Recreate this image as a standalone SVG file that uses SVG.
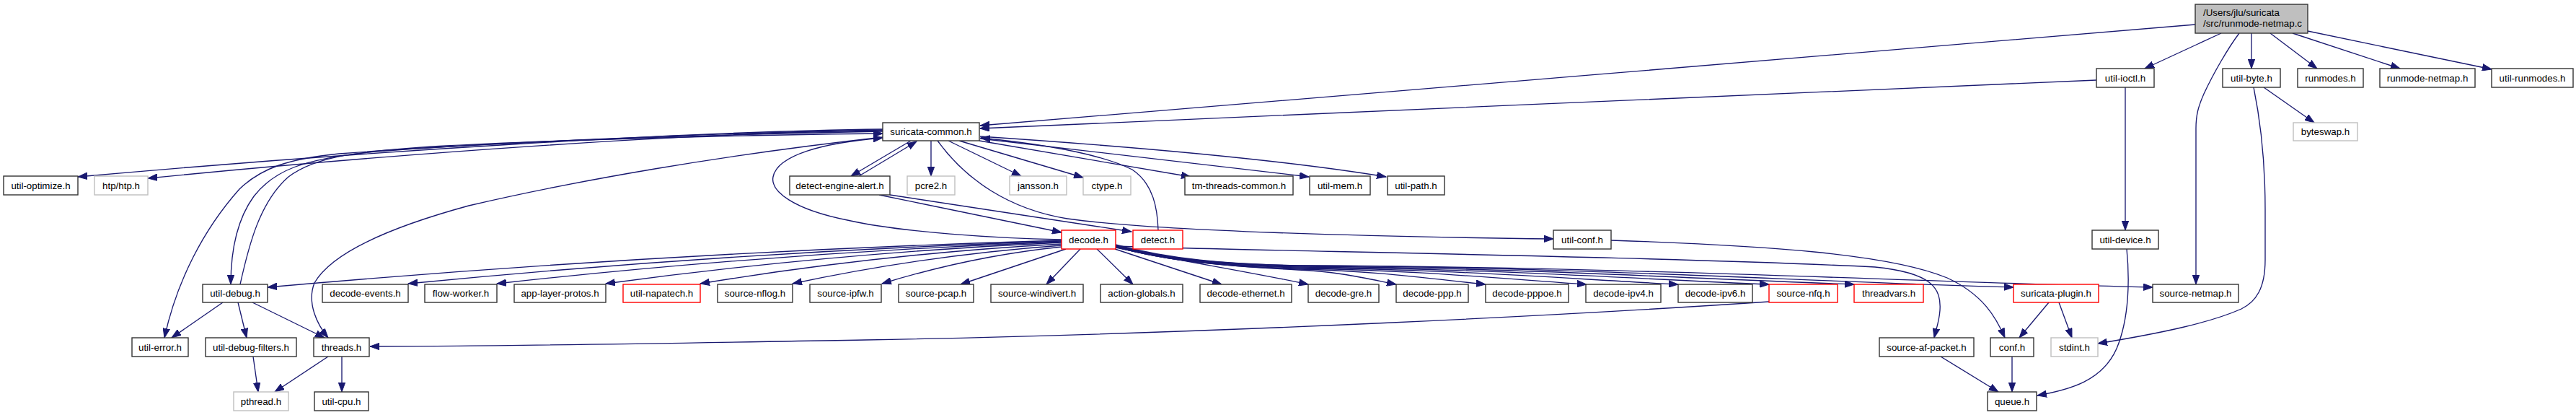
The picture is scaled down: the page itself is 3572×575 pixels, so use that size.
<svg xmlns="http://www.w3.org/2000/svg" width="3572" height="575" viewBox="0 0 3572 575">
<defs>
<marker id="a" markerUnits="userSpaceOnUse" markerWidth="14" markerHeight="10" refX="13" refY="5" orient="auto">
<path d="M0,0.3 L13,5 L0,9.7 z" fill="#191970" stroke="#191970" stroke-width="1"/>
</marker>
</defs>
<style>
rect{fill:#fff;stroke:#333;stroke-width:1.4}
.g rect{stroke:#bfbfbf}
.r rect{stroke:#f00}
#root rect{fill:#bfbfbf}
text{font-family:"Liberation Sans",Arial,Helvetica,sans-serif;font-size:13.33px;text-anchor:middle;fill:#000}
#root text{text-anchor:start}
#edges path{fill:none;stroke:#191970;stroke-width:1.33;marker-end:url(#a)}
</style>
<rect x="0" y="0" width="3572" height="575" style="fill:#fff;stroke:none"/>
<g id="edges">
<path d="M3044,34 C2700,62 1700,147 1359,174"/>
<path d="M2907,111 C2600,124 1700,163 1359,178"/>
<path d="M3080,46 L2974,95"/>
<path d="M3105,46 C3090,66 3070,100 3056,130 C3048,148 3045,160 3045,178 L3045,394"/>
<path d="M3122,46 L3122,95"/>
<path d="M3148,46 L3213,95"/>
<path d="M3179,46 L3328,95"/>
<path d="M3200,43 L3455,96"/>
<path d="M3139,121 L3209,170"/>
<path d="M3125,121 C3135,170 3141,230 3141,290 L3141,360 C3141,400 3128,418 3108,428 C3065,447 3000,461 2909,476"/>
<path d="M2947,121 L2947,319"/>
<path d="M2949,345 C2953,385 2953,440 2935,483 C2915,528 2870,540 2825,548"/>
<path d="M2234,333 C2450,340 2620,352 2700,385 C2750,408 2768,440 2780,468"/>
<path d="M2841,419 L2800,468"/>
<path d="M2855,419 L2873,468"/>
<path d="M2790,494 L2790,543"/>
<path d="M2691,494 L2771,543"/>
<path d="M1547,341 C1700,347 2300,355 2600,370 C2680,378 2692,400 2690,430 C2689,445 2685,455 2682,468"/>
<path d="M1472,332 C1380,330 1250,322 1175,305 C1100,290 1068,265 1072,245 C1078,215 1140,198 1224,191"/>
<path d="M333,394 C345,340 360,280 400,245 C440,215 500,210 600,203 C800,192 1100,186 1224,185"/>
<path d="M1224,182 C1000,186 700,196 520,210 C420,220 380,236 352,272 C328,305 320,350 320,394"/>
<path d="M1224,180 C1000,184 650,199 470,213 C400,220 362,233 332,262 C282,318 245,390 228,468"/>
<path d="M1224,179 C950,182 500,210 108,245"/>
<path d="M1224,181 C950,184 550,213 205,247"/>
<path d="M1224,190 C1000,215 800,250 650,285 C540,315 460,350 436,392 C425,420 440,450 455,468"/>
<path d="M1263,195 L1180,244"/>
<path d="M1191,244 L1271,196"/>
<path d="M1291,195 L1291,244"/>
<path d="M1315,195 L1416,244"/>
<path d="M1330,195 L1502,246"/>
<path d="M1358,195 L1651,245"/>
<path d="M1359,192 L1815,245"/>
<path d="M1359,189 C1600,205 1800,225 1922,245"/>
<path d="M1606,319 C1605,290 1600,255 1570,235 C1520,210 1430,198 1360,191"/>
<path d="M1300,195 C1340,250 1400,290 1480,303 C1600,320 1900,328 2154,331"/>
<path d="M1219,270 L1472,322"/>
<path d="M1234,270 L1569,321"/>
<path d="M2453,418 C2200,435 1700,462 1200,471 C900,476 700,480 513,480"/>
<path d="M309,419 L238,468"/>
<path d="M330,419 L342,468"/>
<path d="M350,419 L450,468"/>
<path d="M351,494 L358,543"/>
<path d="M455,494 L381,543"/>
<path d="M474,494 L474,543"/>
<path d="M1472,333 C1105,344 738,365.5 371,398"/>
<path d="M1472,334 C1170,344 868,363.5 566,393"/>
<path d="M1472,335 C1211,345 950,364 689,393"/>
<path d="M1472,336 C1261,345.5 1051,364.5 840,393"/>
<path d="M1472,338 C1305,347 1138,365.5 971,393"/>
<path d="M1472,340 C1348,349 1223,366.5 1099,393"/>
<path d="M1472,342 C1389,350.5 1306,367.5 1223,393"/>
<path d="M1478,345 L1332,394"/>
<path d="M1498,345 L1451,394"/>
<path d="M1521,345 L1571,394"/>
<path d="M1546,345 L1694,394"/>
<path d="M1547,343 C1640,362 1740,378 1814,394"/>
<path d="M1547,342 C1620,362 1700,369 1800,374 C1854,376 1895,386 1936,394"/>
<path d="M1547,342 C1620,362 1700,369 1800,373 C1904,375 1982,386 2060,394"/>
<path d="M1547,342 C1620,362 1700,369 1800,372 C1960,374 2080,386 2200,394"/>
<path d="M1547,341 C1620,361 1700,368 1800,371 C2011,373 2169,386 2327,394"/>
<path d="M1547,341 C1620,361 1700,368 1800,370 C2061,372 2257,386 2453,394"/>
<path d="M1547,340 C1620,360 1700,367 1800,369 C2108,371 2340,386 2571,394"/>
<path d="M1547,340 C1620,360 1700,366 1800,368 C2197,370 2494,390 2792,398"/>
<path d="M1547,339 C1620,359 1700,366 1800,368 C2274,370 2630,390 2985,398"/>
</g>
<g id="root"><rect x="3044" y="6" width="156" height="40"/><text x="3055" y="22">/Users/jlu/suricata</text><text x="3055" y="37">/src/runmode-netmap.c</text></g>
<g id="util-ioctl"><rect x="2907" y="95" width="80" height="26"/><text x="2947" y="113">util-ioctl.h</text></g>
<g id="util-byte"><rect x="3082" y="95" width="80" height="26"/><text x="3122" y="113">util-byte.h</text></g>
<g id="runmodes"><rect x="3186" y="95" width="91" height="26"/><text x="3231.5" y="113">runmodes.h</text></g>
<g id="runmode-netmap"><rect x="3300" y="95" width="132" height="26"/><text x="3366" y="113">runmode-netmap.h</text></g>
<g id="util-runmodes"><rect x="3455" y="95" width="113" height="26"/><text x="3511.5" y="113">util-runmodes.h</text></g>
<g id="suricata-common"><rect x="1224" y="170" width="134" height="25"/><text x="1291" y="187">suricata-common.h</text></g>
<g id="byteswap" class="g"><rect x="3180" y="170" width="89" height="25"/><text x="3224.5" y="187">byteswap.h</text></g>
<g id="util-optimize"><rect x="5" y="244" width="103" height="26"/><text x="56.5" y="262">util-optimize.h</text></g>
<g id="htp" class="g"><rect x="131" y="244" width="74" height="26"/><text x="168" y="262">htp/htp.h</text></g>
<g id="detect-engine-alert"><rect x="1095" y="244" width="139" height="26"/><text x="1164.5" y="262">detect-engine-alert.h</text></g>
<g id="pcre2" class="g"><rect x="1258" y="244" width="66" height="26"/><text x="1291" y="262">pcre2.h</text></g>
<g id="jansson" class="g"><rect x="1400" y="244" width="79" height="26"/><text x="1439.5" y="262">jansson.h</text></g>
<g id="ctype" class="g"><rect x="1502" y="244" width="66" height="26"/><text x="1535" y="262">ctype.h</text></g>
<g id="tm-threads-common"><rect x="1643" y="244" width="150" height="26"/><text x="1718" y="262">tm-threads-common.h</text></g>
<g id="util-mem"><rect x="1816" y="244" width="84" height="26"/><text x="1858" y="262">util-mem.h</text></g>
<g id="util-path"><rect x="1924" y="244" width="79" height="26"/><text x="1963.5" y="262">util-path.h</text></g>
<g id="decode" class="r"><rect x="1472" y="319" width="75" height="26"/><text x="1509.5" y="337">decode.h</text></g>
<g id="detect" class="r"><rect x="1571" y="319" width="69" height="26"/><text x="1605.5" y="337">detect.h</text></g>
<g id="util-conf"><rect x="2154" y="319" width="80" height="26"/><text x="2194" y="337">util-conf.h</text></g>
<g id="util-device"><rect x="2901" y="319" width="92" height="26"/><text x="2947" y="337">util-device.h</text></g>
<g id="util-debug"><rect x="281" y="394" width="90" height="25"/><text x="326" y="411">util-debug.h</text></g>
<g id="decode-events"><rect x="447" y="394" width="119" height="25"/><text x="506.5" y="411">decode-events.h</text></g>
<g id="flow-worker"><rect x="589" y="394" width="100" height="25"/><text x="639" y="411">flow-worker.h</text></g>
<g id="app-layer-protos"><rect x="713" y="394" width="127" height="25"/><text x="776.5" y="411">app-layer-protos.h</text></g>
<g id="util-napatech" class="r"><rect x="864" y="394" width="107" height="25"/><text x="917.5" y="411">util-napatech.h</text></g>
<g id="source-nflog"><rect x="995" y="394" width="104" height="25"/><text x="1047" y="411">source-nflog.h</text></g>
<g id="source-ipfw"><rect x="1123" y="394" width="99" height="25"/><text x="1172.5" y="411">source-ipfw.h</text></g>
<g id="source-pcap"><rect x="1246" y="394" width="104" height="25"/><text x="1298" y="411">source-pcap.h</text></g>
<g id="source-windivert"><rect x="1374" y="394" width="128" height="25"/><text x="1438" y="411">source-windivert.h</text></g>
<g id="action-globals"><rect x="1526" y="394" width="114" height="25"/><text x="1583" y="411">action-globals.h</text></g>
<g id="decode-ethernet"><rect x="1664" y="394" width="127" height="25"/><text x="1727.5" y="411">decode-ethernet.h</text></g>
<g id="decode-gre"><rect x="1814" y="394" width="98" height="25"/><text x="1863" y="411">decode-gre.h</text></g>
<g id="decode-ppp"><rect x="1936" y="394" width="100" height="25"/><text x="1986" y="411">decode-ppp.h</text></g>
<g id="decode-pppoe"><rect x="2060" y="394" width="115" height="25"/><text x="2117.5" y="411">decode-pppoe.h</text></g>
<g id="decode-ipv4"><rect x="2199" y="394" width="104" height="25"/><text x="2251" y="411">decode-ipv4.h</text></g>
<g id="decode-ipv6"><rect x="2327" y="394" width="103" height="25"/><text x="2378.5" y="411">decode-ipv6.h</text></g>
<g id="source-nfq" class="r"><rect x="2453" y="394" width="95" height="25"/><text x="2500.5" y="411">source-nfq.h</text></g>
<g id="threadvars" class="r"><rect x="2571" y="394" width="96" height="25"/><text x="2619" y="411">threadvars.h</text></g>
<g id="suricata-plugin" class="r"><rect x="2792" y="394" width="118" height="25"/><text x="2851" y="411">suricata-plugin.h</text></g>
<g id="source-netmap"><rect x="2985" y="394" width="119" height="25"/><text x="3044.5" y="411">source-netmap.h</text></g>
<g id="util-error"><rect x="183" y="468" width="78" height="26"/><text x="222" y="486">util-error.h</text></g>
<g id="util-debug-filters"><rect x="285" y="468" width="126" height="26"/><text x="348" y="486">util-debug-filters.h</text></g>
<g id="threads"><rect x="435" y="468" width="77" height="26"/><text x="473.5" y="486">threads.h</text></g>
<g id="source-af-packet"><rect x="2606" y="468" width="131" height="26"/><text x="2671.5" y="486">source-af-packet.h</text></g>
<g id="conf"><rect x="2760" y="468" width="60" height="26"/><text x="2790" y="486">conf.h</text></g>
<g id="stdint" class="g"><rect x="2844" y="468" width="65" height="26"/><text x="2876.5" y="486">stdint.h</text></g>
<g id="pthread" class="g"><rect x="324" y="543" width="76" height="26"/><text x="362" y="561">pthread.h</text></g>
<g id="util-cpu"><rect x="436" y="543" width="75" height="26"/><text x="473.5" y="561">util-cpu.h</text></g>
<g id="queue"><rect x="2756" y="543" width="68" height="26"/><text x="2790" y="561">queue.h</text></g>
</svg>
